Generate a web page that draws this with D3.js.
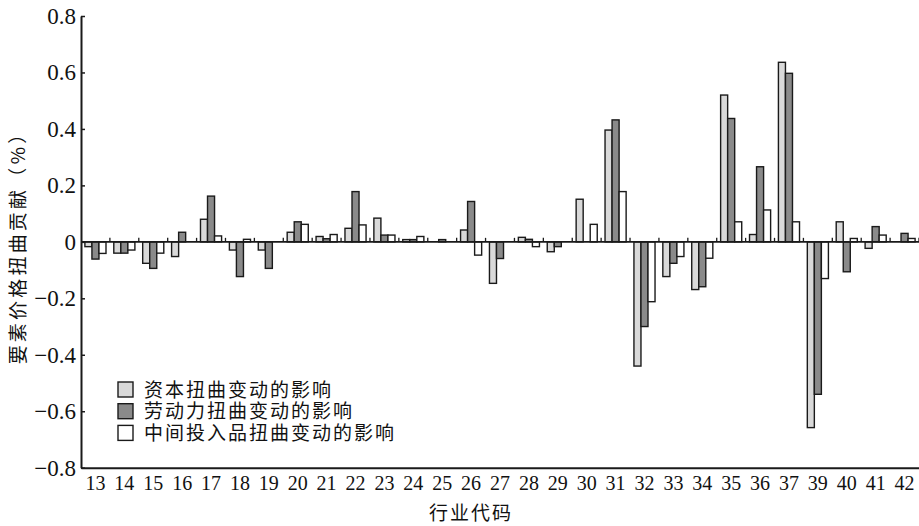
<!DOCTYPE html>
<html lang="zh">
<head>
<meta charset="utf-8">
<script src="https://cdn.jsdelivr.net/npm/d3@7"></script>
<style>
  body { margin: 0; background: #fff; }
  .num { font-family: "Liberation Serif", "Times New Roman", serif; font-size: 20px; fill: #111; }
  .ynum { font-family: "Liberation Serif", "Times New Roman", serif; font-size: 23px; fill: #111; }
  .cjk { font-family: "Noto Sans CJK SC", sans-serif; font-size: 19px; fill: #111; letter-spacing: 2px; }
</style>
</head>
<body>
<div id="chart"></div>
<script>
// industry codes (no 38)
var codes = ["13","14","15","16","17","18","19","20","21","22","23","24","25","26","27",
             "28","29","30","31","32","33","34","35","36","37","39","40","41","42"];

// 资本扭曲变动的影响
var capital = [-0.017,-0.04,-0.076,-0.052,0.08,-0.029,-0.029,0.034,0.019,0.048,0.084,0.008,0,0.042,-0.147,
               0.016,-0.035,0.151,0.396,-0.44,-0.123,-0.169,0.52,0.026,0.636,-0.658,0.071,-0.023,0];
// 劳动力扭曲变动的影响
var labour = [-0.061,-0.04,-0.094,0.034,0.162,-0.123,-0.094,0.071,0.011,0.178,0.024,0.008,0.008,0.143,-0.059,
              0.009,-0.017,0,0.432,-0.30,-0.076,-0.159,0.437,0.266,0.597,-0.54,-0.106,0.054,0.03];
// 中间投入品扭曲变动的影响
var inputs = [-0.041,-0.029,-0.04,0,0.021,0.009,0,0.062,0.026,0.06,0.024,0.019,0,-0.047,0,
              -0.017,0,0.062,0.178,-0.212,-0.052,-0.058,0.071,0.113,0.071,-0.13,0.012,0.024,0.012];

var seriesNames = ["资本扭曲变动的影响", "劳动力扭曲变动的影响", "中间投入品扭曲变动的影响"];
var seriesColors = ["#d9d9d9", "#8a8a8a", "#ffffff"];
var yTicks = [-0.8, -0.6, -0.4, -0.2, 0, 0.2, 0.4, 0.6, 0.8];
var yTickLabels = ["\u22120.8", "\u22120.6", "\u22120.4", "\u22120.2", "0", "0.2", "0.4", "0.6", "0.8"];

var W = 919, H = 526;
var mLeft = 81, mRight = 919, mTop = 16, mBottom = 467.7;

var svg = d3.select("#chart").append("svg")
  .attr("width", W).attr("height", H);

var x0 = d3.scaleBand().domain(codes).range([mLeft, mRight])
  .paddingInner(0.27).paddingOuter(0.135);
var x1 = d3.scaleBand().domain([0, 1, 2]).range([0, x0.bandwidth()]);
var y = d3.scaleLinear().domain([-0.8, 0.8]).range([mBottom, mTop]);

// table for bars
var rows = codes.map(function (c, i) {
  return { code: c, vals: [capital[i], labour[i], inputs[i]] };
});

var groups = svg.selectAll(".grp")
  .data(rows)
  .enter().append("g")
  .attr("class", "grp")
  .attr("transform", function (d) { return "translate(" + x0(d.code) + ",0)"; });

groups.selectAll("rect")
  .data(function (d) { return d.vals.map(function (v, k) { return { k: k, v: v }; }).filter(function (e) { return e.v !== 0; }); })
  .enter().append("rect")
  .attr("x", function (d) { return x1(d.k); })
  .attr("width", x1.bandwidth())
  .attr("y", function (d) { return y(Math.max(0, d.v)); })
  .attr("height", function (d) { return Math.abs(y(d.v) - y(0)); })
  .attr("fill", function (d) { return seriesColors[d.k]; })
  .attr("stroke", "#1a1a1a")
  .attr("stroke-width", 1.4);

// zero line
svg.append("line")
  .attr("x1", mLeft).attr("x2", mRight)
  .attr("y1", y(0)).attr("y2", y(0))
  .attr("stroke", "#1a1a1a").attr("stroke-width", 1.6);

// small ticks on zero line between groups
var step = x0.step();
svg.selectAll(".zt")
  .data(d3.range(1, codes.length + 1))
  .enter().append("line")
  .attr("class", "zt")
  .attr("x1", function (i) { return mLeft + i * step; })
  .attr("x2", function (i) { return mLeft + i * step; })
  .attr("y1", y(0)).attr("y2", y(0) - 4)
  .attr("stroke", "#1a1a1a").attr("stroke-width", 1.3);

// y axis
var yAxis = svg.append("g")
  .attr("transform", "translate(" + mLeft + ",0)")
  .call(d3.axisLeft(y).tickValues(yTicks).tickSizeInner(-4).tickSizeOuter(0).tickPadding(6)
    .tickFormat(function (d, i) { return yTickLabels[i]; }));
yAxis.select(".domain").attr("stroke", "#1a1a1a").attr("stroke-width", 2);
yAxis.selectAll(".tick line").attr("stroke", "#1a1a1a").attr("stroke-width", 1.5);
yAxis.selectAll("text").attr("class", "ynum").attr("font-size", null).attr("font-family", null)
  .attr("fill", null).attr("x", -5);

// x axis
var xAxis = svg.append("g")
  .attr("transform", "translate(0," + mBottom + ")")
  .call(d3.axisBottom(x0).tickSize(0).tickPadding(8));
xAxis.select(".domain").attr("stroke", "#1a1a1a").attr("stroke-width", 2);
xAxis.selectAll("text").attr("class", "num").attr("font-size", null).attr("font-family", null)
  .attr("fill", null);

// axis titles
svg.append("text")
  .attr("class", "cjk")
  .attr("x", 471).attr("y", 520)
  .attr("text-anchor", "middle")
  .text("行业代码");

svg.append("text")
  .attr("class", "cjk")
  .attr("transform", "translate(25,243) rotate(-90)")
  .attr("text-anchor", "middle")
  .style("letter-spacing", "3.2px")
  .text("要素价格扭曲贡献（%）");

// legend
var legend = svg.selectAll(".leg")
  .data(seriesNames)
  .enter().append("g")
  .attr("class", "leg")
  .attr("transform", function (d, i) { return "translate(118," + (382 + i * 21.7) + ")"; });

legend.append("rect")
  .attr("width", 15).attr("height", 15)
  .attr("fill", function (d, i) { return seriesColors[i]; })
  .attr("stroke", "#1a1a1a").attr("stroke-width", 1.4);

legend.append("text")
  .attr("class", "cjk")
  .attr("x", 26).attr("y", 14.5)
  .text(function (d) { return d; });
</script>
</body>
</html>
